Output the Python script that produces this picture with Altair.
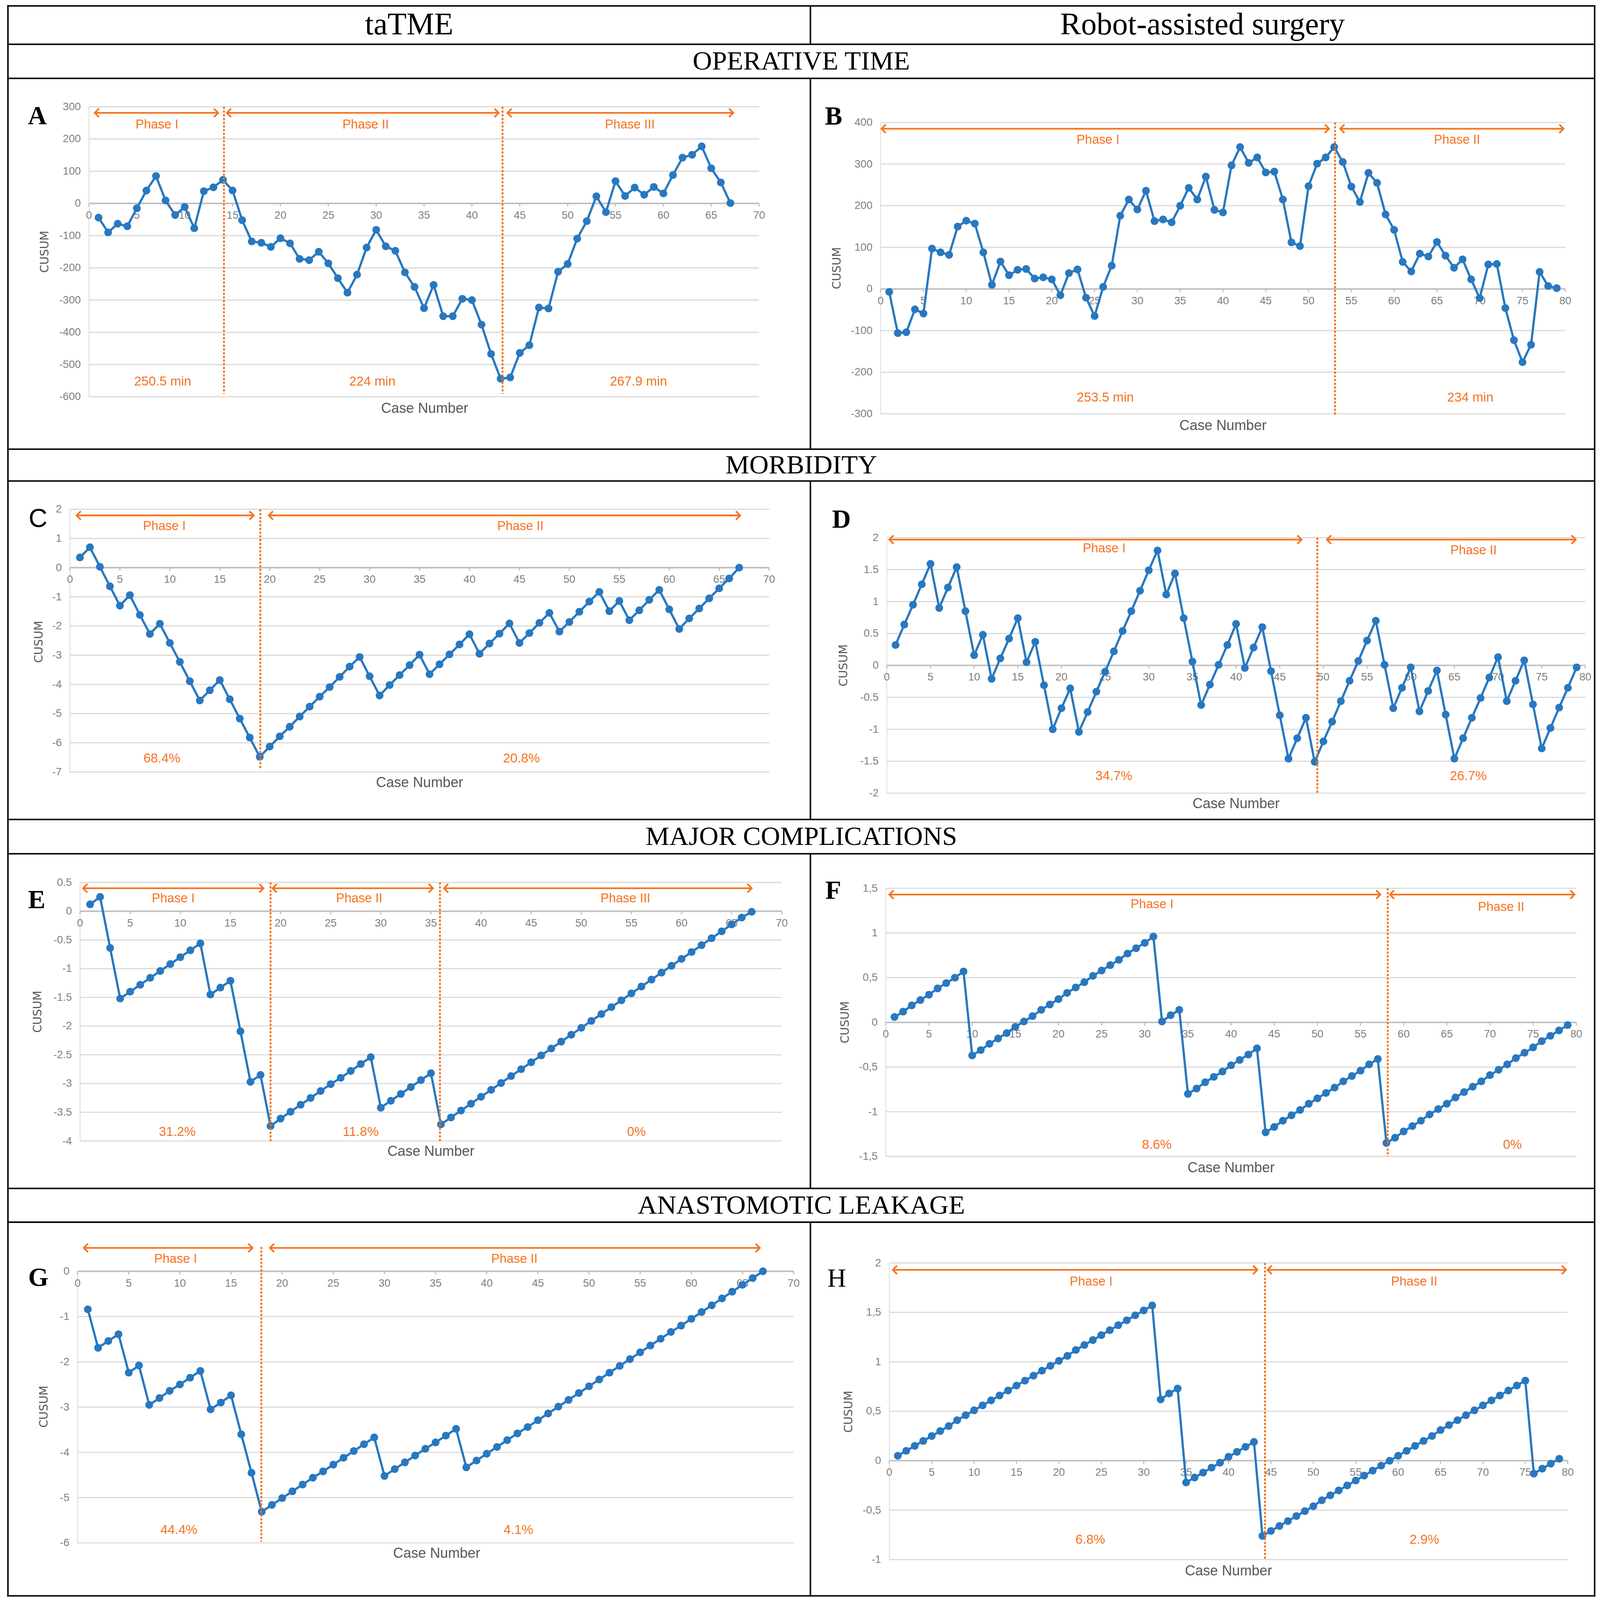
import altair as alt
import pandas as pd

# ------------------------------------------------------------------ data
COL_HEADERS = ["taTME", "Robot-assisted surgery"]
SECTIONS = ["OPERATIVE TIME", "MORBIDITY", "MAJOR COMPLICATIONS", "ANASTOMOTIC LEAKAGE"]

A_cusum = [-44, -90, -63, -71, -15, 40, 85, 9, -36, -11,
           -77, 38, 50, 73, 40, -52, -118, -122, -135, -108,
           -124, -172, -176, -150, -186, -232, -277, -221, -137, -82,
           -133, -147, -214, -259, -325, -253, -350, -350, -296, -300,
           -376, -467, -544, -540, -464, -440, -323, -326, -212, -188,
           -109, -55, 22, -27, 69, 23, 49, 27, 51, 31,
           88, 142, 151, 177, 109, 65, 1]
B_cusum = [-7, -106, -104, -49, -59, 97, 88, 82, 150, 164,
           157, 88, 10, 66, 33, 46, 48, 25, 28, 23,
           -15, 38, 47, -21, -65, 5, 56, 176, 215, 191,
           236, 163, 167, 160, 200, 243, 215, 270, 190, 184,
           297, 341, 303, 316, 280, 282, 215, 112, 103, 247,
           301, 316, 341, 305, 246, 209, 279, 255, 179, 142,
           65, 42, 85, 78, 113, 80, 51, 71, 23, -22,
           59, 60, -46, -123, -176, -134, 41, 7, 2]
C_cusum = [0.35, 0.70, 0.03, -0.64, -1.30, -0.94, -1.62, -2.27, -1.92, -2.58,
           -3.23, -3.89, -4.55, -4.20, -3.85, -4.51, -5.17, -5.82, -6.48, -6.13,
           -5.78, -5.45, -5.10, -4.76, -4.42, -4.09, -3.74, -3.39, -3.06, -3.72,
           -4.38, -4.02, -3.68, -3.34, -2.98, -3.65, -3.31, -2.97, -2.63, -2.28,
           -2.95, -2.60, -2.26, -1.91, -2.58, -2.24, -1.89, -1.55, -2.19, -1.86,
           -1.51, -1.16, -0.83, -1.49, -1.14, -1.80, -1.46, -1.10, -0.76, -1.43,
           -2.10, -1.74, -1.40, -1.05, -0.71, -0.37, 0.0]
D_cusum = [0.32, 0.64, 0.95, 1.27, 1.59, 0.90, 1.22, 1.54, 0.85, 0.16,
           0.48, -0.21, 0.11, 0.42, 0.74, 0.05, 0.37, -0.31, -1.00, -0.67,
           -0.36, -1.04, -0.73, -0.41, -0.10, 0.22, 0.54, 0.85, 1.17, 1.49,
           1.80, 1.11, 1.44, 0.74, 0.06, -0.62, -0.30, 0.01, 0.32, 0.65,
           -0.04, 0.28, 0.60, -0.09, -0.78, -1.46, -1.14, -0.82, -1.51, -1.19,
           -0.88, -0.56, -0.24, 0.07, 0.39, 0.70, 0.01, -0.67, -0.35, -0.03,
           -0.72, -0.40, -0.08, -0.77, -1.46, -1.14, -0.82, -0.51, -0.19, 0.13,
           -0.56, -0.24, 0.08, -0.61, -1.30, -0.98, -0.66, -0.35, -0.03]
E_cusum = [0.12, 0.25, -0.64, -1.52, -1.40, -1.28, -1.16, -1.04, -0.92, -0.80,
           -0.68, -0.56, -1.45, -1.33, -1.21, -2.09, -2.97, -2.85, -3.74, -3.61,
           -3.49, -3.37, -3.25, -3.13, -3.01, -2.90, -2.78, -2.66, -2.54, -3.42,
           -3.30, -3.18, -3.06, -2.94, -2.82, -3.71, -3.59, -3.47, -3.35, -3.23,
           -3.11, -2.99, -2.87, -2.75, -2.63, -2.51, -2.39, -2.27, -2.15, -2.03,
           -1.91, -1.79, -1.67, -1.55, -1.43, -1.31, -1.19, -1.07, -0.95, -0.83,
           -0.71, -0.59, -0.47, -0.35, -0.23, -0.11, -0.01]
F_cusum = [0.06, 0.12, 0.19, 0.25, 0.31, 0.38, 0.44, 0.50, 0.57,
           -0.37, -0.31, -0.24, -0.18, -0.12, -0.05, 0.01, 0.07, 0.14, 0.20, 0.26,
           0.33, 0.39, 0.45, 0.52, 0.58, 0.64, 0.70, 0.77, 0.83, 0.89, 0.96,
           0.01, 0.08, 0.14,
           -0.80, -0.74, -0.67, -0.61, -0.55, -0.48, -0.42, -0.36, -0.29,
           -1.23, -1.17, -1.10, -1.04, -0.98, -0.91, -0.85, -0.79, -0.73, -0.66,
           -0.60, -0.54, -0.47, -0.41,
           -1.35, -1.29, -1.22, -1.16, -1.10, -1.03, -0.97, -0.91, -0.84, -0.78,
           -0.72, -0.66, -0.59, -0.53, -0.47, -0.40, -0.34, -0.28, -0.21, -0.15,
           -0.09, -0.03]
G_cusum = [-0.84, -1.69, -1.54, -1.39, -2.24, -2.08, -2.95, -2.80, -2.64, -2.50,
           -2.35, -2.20, -3.05, -2.90, -2.74, -3.60, -4.45, -5.31,
           -5.16, -5.01, -4.86, -4.71, -4.56, -4.42, -4.27, -4.12, -3.97, -3.82, -3.67,
           -4.52, -4.37, -4.22, -4.07, -3.92, -3.78, -3.63, -3.48,
           -4.33, -4.18, -4.03, -3.88, -3.73, -3.58, -3.44, -3.29, -3.14, -2.99,
           -2.84, -2.69, -2.54, -2.39, -2.24, -2.09, -1.94, -1.79, -1.64, -1.49,
           -1.34, -1.20, -1.05, -0.90, -0.75, -0.60, -0.45, -0.30, -0.15, 0.00]
H_cusum = [0.05, 0.10, 0.15, 0.20, 0.25, 0.30, 0.35, 0.41, 0.46, 0.51,
           0.56, 0.61, 0.66, 0.71, 0.76, 0.81, 0.86, 0.91, 0.96, 1.01,
           1.06, 1.12, 1.17, 1.22, 1.27, 1.32, 1.37, 1.42, 1.47, 1.52, 1.57,
           0.62, 0.68, 0.73,
           -0.22, -0.17, -0.12, -0.07, -0.02, 0.04, 0.09, 0.14, 0.19,
           -0.76, -0.71, -0.66, -0.61, -0.56, -0.51, -0.46, -0.40, -0.35, -0.30,
           -0.25, -0.20, -0.15, -0.10, -0.05, 0.00, 0.05, 0.10, 0.15, 0.20,
           0.25, 0.31, 0.36, 0.41, 0.46, 0.51, 0.56, 0.61, 0.66, 0.71, 0.76, 0.81,
           -0.13, -0.08, -0.03, 0.02]

PH2 = ["Phase I", "Phase II"]
PH3 = ["Phase I", "Phase II", "Phase III"]
A_summary = ["250.5 min", "224 min", "267.9 min"]
B_summary = ["253.5 min", "234 min"]
C_summary = ["68.4%", "20.8%"]
D_summary = ["34.7%", "26.7%"]
E_summary = ["31.2%", "11.8%", "0%"]
F_summary = ["8.6%", "0%"]
G_summary = ["44.4%", "4.1%"]
H_summary = ["6.8%", "2.9%"]

# case numbers at which the phases change (dotted lines)
A_cuts = [14.1, 43.2]
B_cuts = [53.1]
C_cuts = [19.06]
D_cuts = [49.3]
E_cuts = [19.0, 35.9]
F_cuts = [58.15]
G_cuts = [17.96]
H_cuts = [44.3]

X70_TICKS = [0, 5, 10, 15, 20, 25, 30, 35, 40, 45, 50, 55, 60, 65, 70]
X80_TICKS = [0, 5, 10, 15, 20, 25, 30, 35, 40, 45, 50, 55, 60, 65, 70, 75, 80]
A_YTICKS = [-600, -500, -400, -300, -200, -100, 0, 100, 200, 300]
B_YTICKS = [-300, -200, -100, 0, 100, 200, 300, 400]
C_YTICKS = [-7, -6, -5, -4, -3, -2, -1, 0, 1, 2]
D_YTICKS = [-2, -1.5, -1, -0.5, 0, 0.5, 1, 1.5, 2]
E_YTICKS = [-4, -3.5, -3, -2.5, -2, -1.5, -1, -0.5, 0, 0.5]
F_YTICKS = [-1.5, -1, -0.5, 0, 0.5, 1, 1.5]
G_YTICKS = [-6, -5, -4, -3, -2, -1, 0]
H_YTICKS = [-1, -0.5, 0, 0.5, 1, 1.5, 2]

# ------------------------------------------------------------------ layout / style
BLUE = "#2878C0"
ORANGE = "#F5741F"
GRID = "#D9D9D9"
AXIS0 = "#BFBFBF"
TICKTXT = "#7F7F7F"
TITLETXT = "#595959"
SANS = "Liberation Sans, Arial, sans-serif"
SERIF = "Liberation Serif, DejaVu Serif, serif"

# the photographed area is square (4313 x 4313): the whole table is laid out
# with its vertical measures scaled so that it fits in it
KY = 4313 / 5135
ORIGIN_Y = 15                 # page y of the drawing origin

LW = 4                       # table line width
WL, WR = 2155, 2106          # cell widths
LEFT_X = LW
RIGHT_X = LW + WL + LW
PLOT_W = RIGHT_X + WR + LW
PLOT_H = 5097

# row extents of the original figure (page pixels) -> scaled drawing coordinates
REF_TOP = [19, 142, 251, 1439, 1541, 2625, 2735, 3807, 3915]
REF_BOT = [138, 247, 1435, 1537, 2621, 2731, 3803, 3911, 5108]
REF_LINES = [17, 140, 249, 1437, 1539, 2623, 2733, 3805, 3913, 5110]
ROW_Y = [KY * t - ORIGIN_Y for t in REF_TOP]
ROW_H = [KY * (b - t) for t, b in zip(REF_TOP, REF_BOT)]
LINES_Y = [KY * c - ORIGIN_Y for c in REF_LINES]
SPLIT_ROWS = [0, 2, 4, 6, 8]
SECTION_ROWS = [1, 3, 5, 7]
SHIFT_LEFT = -7
SHIFT_RIGHT = RIGHT_X
PAGE_SHIFT = 129
PAD = {"left": 11, "top": 7 - PAGE_SHIFT, "right": 4, "bottom": 4 + PAGE_SHIFT}

# geometry of every panel inside its cell (pixel ranges) and annotation positions (data units)
LAYOUT = {
    "A": dict(xdom=[0, 70], ydom=[-600, 300], xr=[227, 2030], yr=[1018, 89],
              letter=(-5.4, 270), cusum=(-4.6, -150), casenum=(35.06, -637),
              arrow_y=281, segs=[(0.6, 13.5), (14.4, 42.8), (43.7, 67.3)],
              label_y=[244, 244, 244], label_x=[7.1, 28.9, 56.5],
              bottom_y=-553, bottom_x=[7.7, 29.6, 57.4], dash=[300, -591]),
    "B": dict(xdom=[0, 80], ydom=[-300, 400], xr=[187, 2029], yr=[1072.6, 139.5],
              letter=(-5.5, 414), cusum=(-5.05, 50), casenum=(40, -329),
              arrow_y=385, segs=[(0.1, 52.4), (53.7, 79.8)],
              label_y=[358, 358], label_x=[25.4, 67.35],
              bottom_y=-261, bottom_x=[26.25, 68.9], dash=[400, -303]),
    "C": dict(xdom=[0, 70], ydom=[-7, 2], xr=[175.8, 2057], yr=[930, 88.5],
              letter=(-3.2, 1.66), cusum=(-3.07, -2.54), casenum=(35, -7.38),
              arrow_y=1.79, segs=[(0.66, 18.4), (19.9, 67.1)],
              label_y=[1.42, 1.42], label_x=[9.45, 45.1],
              bottom_y=-6.53, bottom_x=[9.2, 45.2], dash=[2, -6.92]),
    "D": dict(xdom=[0, 80], ydom=[-2, 2], xr=[203.6, 2083], yr=[997.7, 179.5],
              letter=(-5.2, 2.28), cusum=(-4.9, 0), casenum=(40, -2.17),
              arrow_y=1.97, segs=[(0.29, 47.5), (50.4, 78.9)],
              label_y=[1.83, 1.80], label_x=[24.9, 67.2],
              bottom_y=-1.73, bottom_x=[26.0, 66.6], dash=[2, -2]),
    "E": dict(xdom=[0, 70], ydom=[-4, 0.5], xr=[203, 2091], yr=[918, 90],
              letter=(-4.33, 0.19), cusum=(-4.2, -1.75), casenum=(35, -4.19),
              arrow_y=0.40, segs=[(0.3, 18.3), (19.2, 35.2), (36.3, 67.0)],
              label_y=[0.22, 0.22, 0.22], label_x=[9.3, 27.85, 54.4],
              bottom_y=-3.84, bottom_x=[9.7, 28.0, 55.5], dash=[0.5, -4]),
    "F": dict(xdom=[0, 80], ydom=[-1.5, 1.5], xr=[201, 2058.6], yr=[967.5, 108.6],
              letter=(-6.1, 1.47), cusum=(-4.7, 0), casenum=(40, -1.63),
              arrow_y=1.43, segs=[(0.4, 57.3), (58.4, 79.8)],
              label_y=[1.32, 1.29], label_x=[30.85, 71.3],
              bottom_y=-1.37, bottom_x=[31.4, 72.6], dash=[1.5, -1.5]),
    "G": dict(xdom=[0, 70], ydom=[-6, 0], xr=[196.4, 2122.8], yr=[1025.5, 155.4],
              letter=(-3.84, -0.15), cusum=(-3.24, -2.99), casenum=(35.1, -6.24),
              arrow_y=0.517, segs=[(0.6, 17.1), (18.8, 66.7)],
              label_y=[0.27, 0.27], label_x=[9.58, 42.7],
              bottom_y=-5.71, bottom_x=[9.9, 43.1], dash=[0.54, -5.97]),
    "H": dict(xdom=[0, 80], ydom=[-1, 2], xr=[210.3, 2035.6], yr=[1079, 128.6],
              letter=(-6.2, 1.84), cusum=(-4.74, 0.495), casenum=(40, -1.12),
              arrow_y=1.93, segs=[(0.41, 43.4), (44.6, 79.8)],
              label_y=[1.81, 1.81], label_x=[23.8, 61.9],
              bottom_y=-0.80, bottom_x=[23.7, 63.1], dash=[2, -1]),
}
LETTER_STYLE = {"C": ("Liberation Sans, sans-serif", "normal"), "H": (SERIF, "normal")}


def tick_text(v, comma):
    s = f"{v:g}"
    return s.replace(".", ",") if comma else s


def panel(letter, cusum, phases, summary, cuts, xticks, yticks, comma, sx, sy):
    L = LAYOUT[letter]
    xs = alt.Scale(domain=L["xdom"], range=[L["xr"][0] + sx, L["xr"][1] + sx], nice=False, zero=False)
    ys = alt.Scale(domain=L["ydom"], range=[sy + KY * L["yr"][0], sy + KY * L["yr"][1]], nice=False, zero=False)
    xmin, xmax = L["xdom"]
    ymin, ymax = L["ydom"]

    def X(f):
        return alt.X(f, scale=xs, axis=None)

    def Y(f):
        return alt.Y(f, scale=ys, axis=None)

    # ---- axes drawn from the tick arrays through the scales
    ny = len(yticks)
    dgrid = pd.DataFrame({"v": yticks, "x1": [xmin] * ny, "x2": [xmax] * ny, "x0": [0] * ny,
                          "lab": [tick_text(v, comma) for v in yticks]})
    grid = alt.Chart(dgrid).mark_rule(color=GRID, strokeWidth=3).encode(x=X("x1:Q"), x2="x2:Q", y=Y("v:Q"))
    ylabs = alt.Chart(dgrid).mark_text(font=SANS, fontSize=29, color=TICKTXT, align="right", dx=-22).encode(
        x=X("x0:Q"), y=Y("v:Q"), text="lab:N")
    dyax = pd.DataFrame({"x": [0], "y1": [ymin], "y2": [ymax]})
    yaxis = alt.Chart(dyax).mark_rule(color=GRID, strokeWidth=2).encode(x=X("x:Q"), y=Y("y1:Q"), y2="y2:Q")
    dxax = pd.DataFrame({"x1": [xmin], "x2": [xmax], "y": [0]})
    xaxis = alt.Chart(dxax).mark_rule(color=AXIS0, strokeWidth=4).encode(x=X("x1:Q"), x2="x2:Q", y=Y("y:Q"))
    nx = len(xticks)
    dxt = pd.DataFrame({"v": xticks, "y": [0] * nx, "lab": [tick_text(v, False) for v in xticks]})
    xtk = alt.Chart(dxt).mark_point(shape="M0,0L0,1", size=290, filled=False, strokeWidth=3,
                                    color=AXIS0, opacity=1).encode(x=X("v:Q"), y=Y("y:Q"))
    xlabs = alt.Chart(dxt).mark_text(font=SANS, fontSize=29, color=TICKTXT, baseline="top", dy=18).encode(
        x=X("v:Q"), y=Y("y:Q"), text="lab:N")

    # ---- data
    df = pd.DataFrame({"case": list(range(1, len(cusum) + 1)), "cusum": cusum})
    line = alt.Chart(df).mark_line(color=BLUE, strokeWidth=6).encode(x=X("case:Q"), y=Y("cusum:Q"))
    pts = alt.Chart(df).mark_circle(color=BLUE, size=440, opacity=1).encode(x=X("case:Q"), y=Y("cusum:Q"))

    # ---- phase annotations
    dcut = pd.DataFrame({"x": cuts, "y1": [L["dash"][0]] * len(cuts), "y2": [L["dash"][1]] * len(cuts)})
    dashed = alt.Chart(dcut).mark_rule(color=ORANGE, strokeWidth=5, strokeDash=[6, 4]).encode(
        x=X("x:Q"), y=Y("y1:Q"), y2="y2:Q")
    darr = pd.DataFrame({"x1": [s[0] for s in L["segs"]], "x2": [s[1] for s in L["segs"]],
                         "y": [L["arrow_y"]] * len(L["segs"])})
    arr = alt.Chart(darr).mark_rule(color=ORANGE, strokeWidth=4.5).encode(x=X("x1:Q"), x2="x2:Q", y=Y("y:Q"))
    headL = alt.Chart(darr).mark_point(shape="M1,-1L0,0L1,1", size=520, filled=False, strokeWidth=4.5,
                                       color=ORANGE, opacity=1).encode(x=X("x1:Q"), y=Y("y:Q"))
    headR = alt.Chart(darr).mark_point(shape="M-1,-1L0,0L-1,1", size=520, filled=False, strokeWidth=4.5,
                                       color=ORANGE, opacity=1).encode(x=X("x2:Q"), y=Y("y:Q"))
    dlab = pd.DataFrame({"x": L["label_x"], "y": L["label_y"], "t": phases})
    labs = alt.Chart(dlab).mark_text(font=SANS, fontSize=34, color=ORANGE).encode(
        x=X("x:Q"), y=Y("y:Q"), text="t:N")
    dbot = pd.DataFrame({"x": L["bottom_x"], "y": [L["bottom_y"]] * len(summary), "t": summary})
    bots = alt.Chart(dbot).mark_text(font=SANS, fontSize=35, color=ORANGE).encode(
        x=X("x:Q"), y=Y("y:Q"), text="t:N")

    # ---- titles
    dcase = pd.DataFrame({"x": [L["casenum"][0]], "y": [L["casenum"][1]], "t": ["Case Number"]})
    case = alt.Chart(dcase).mark_text(font=SANS, fontSize=38, color=TITLETXT).encode(
        x=X("x:Q"), y=Y("y:Q"), text="t:N")
    dcus = pd.DataFrame({"x": [L["cusum"][0]], "y": [L["cusum"][1]], "t": ["CUSUM"]})
    cus = alt.Chart(dcus).mark_text(font="DejaVu Sans, sans-serif", fontSize=31, color=TITLETXT, angle=270).encode(
        x=X("x:Q"), y=Y("y:Q"), text="t:N")
    fnt, wt = LETTER_STYLE.get(letter, (SERIF, "bold"))
    dlet = pd.DataFrame({"x": [L["letter"][0]], "y": [L["letter"][1]], "t": [letter]})
    let = alt.Chart(dlet).mark_text(font=fnt, fontWeight=wt, fontSize=70, color="black").encode(
        x=X("x:Q"), y=Y("y:Q"), text="t:N")

    return alt.layer(grid, yaxis, xaxis, xtk, xlabs, ylabs, line, pts, dashed, arr, headL, headR,
                     labs, bots, case, cus, let)


# ---- table frame (cell borders) derived from the row layout
half = LW / 2
top_y, bot_y = LINES_Y[0], LINES_Y[-1]
border_rows = [
    {"x1": half, "x2": half, "y1": top_y - half, "y2": bot_y + half},
    {"x1": PLOT_W - half, "x2": PLOT_W - half, "y1": top_y - half, "y2": bot_y + half},
]
for yb in LINES_Y:
    border_rows.append({"x1": 0, "x2": PLOT_W, "y1": yb, "y2": yb})
for i in SPLIT_ROWS:
    xd = RIGHT_X - half
    border_rows.append({"x1": xd, "x2": xd, "y1": LINES_Y[i], "y2": LINES_Y[i + 1]})
frame = alt.Chart(pd.DataFrame(border_rows)).mark_rule(color="black", strokeWidth=LW).encode(
    x=alt.X("x1:Q", scale=None), x2="x2:Q", y=alt.Y("y1:Q", scale=None), y2="y2:Q")

# ---- header and section texts
hdr_df = pd.DataFrame({"px": [LEFT_X + WL / 2, RIGHT_X + WR / 2],
                       "py": [ROW_Y[0] + ROW_H[0] / 2] * 2, "t": COL_HEADERS})
hdr = alt.Chart(hdr_df).mark_text(font=SERIF, fontSize=84, color="black").encode(
    x=alt.X("px:Q", scale=None), y=alt.Y("py:Q", scale=None), text="t:N")
sec_df = pd.DataFrame({"px": [PLOT_W / 2] * 4,
                       "py": [ROW_Y[i] + ROW_H[i] / 2 for i in SECTION_ROWS], "t": SECTIONS})
sec = alt.Chart(sec_df).mark_text(font=SERIF, fontSize=72, color="black").encode(
    x=alt.X("px:Q", scale=None), y=alt.Y("py:Q", scale=None), text="t:N")

panels = [
    panel("A", A_cusum, PH3, A_summary, A_cuts, X70_TICKS, A_YTICKS, False, SHIFT_LEFT, ROW_Y[2]),
    panel("B", B_cusum, PH2, B_summary, B_cuts, X80_TICKS, B_YTICKS, False, SHIFT_RIGHT, ROW_Y[2]),
    panel("C", C_cusum, PH2, C_summary, C_cuts, X70_TICKS, C_YTICKS, False, SHIFT_LEFT, ROW_Y[4]),
    panel("D", D_cusum, PH2, D_summary, D_cuts, X80_TICKS, D_YTICKS, False, SHIFT_RIGHT, ROW_Y[4]),
    panel("E", E_cusum, PH3, E_summary, E_cuts, X70_TICKS, E_YTICKS, False, SHIFT_LEFT, ROW_Y[6]),
    panel("F", F_cusum, PH2, F_summary, F_cuts, X80_TICKS, F_YTICKS, True, SHIFT_RIGHT, ROW_Y[6]),
    panel("G", G_cusum, PH2, G_summary, G_cuts, X70_TICKS, G_YTICKS, False, SHIFT_LEFT, ROW_Y[8]),
    panel("H", H_cusum, PH2, H_summary, H_cuts, X80_TICKS, H_YTICKS, True, SHIFT_RIGHT, ROW_Y[8]),
]

chart = alt.layer(*panels, frame, hdr, sec).resolve_scale(
    x="independent", y="independent"
).properties(
    width=PLOT_W, height=PLOT_H, background="white",
    padding=PAD,
    autosize=alt.AutoSizeParams(type="none"),
).configure_view(fill="white", strokeWidth=0, strokeOpacity=0)

chart.save("out.html", embed_options={"renderer": "svg", "actions": False})
